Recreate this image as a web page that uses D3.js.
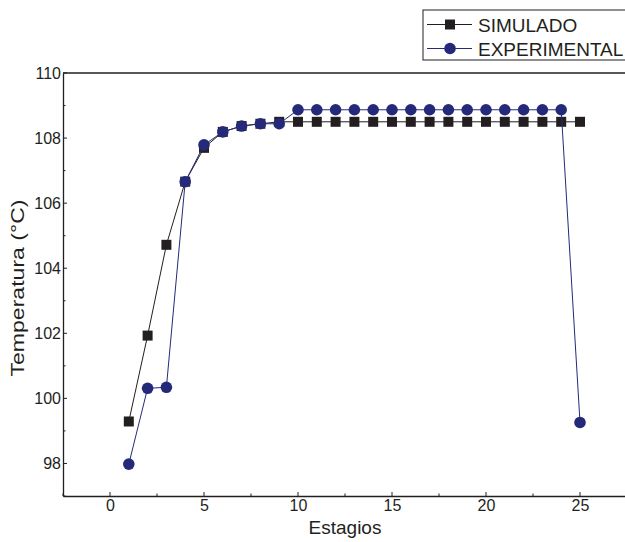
<!DOCTYPE html>
<html>
<head>
<meta charset="utf-8">
<script src="https://cdn.jsdelivr.net/npm/d3@7"></script>
<style>
  body { margin: 0; background: #fff; }
  text { font-family: "Liberation Sans", Arial, sans-serif; fill: #231f20; }
</style>
</head>
<body>
<div id="chart"></div>
<script>
// estagios 1..25
const estagios = d3.range(1, 26)
const simulado = [99.29, 101.93, 104.72, 106.66, 107.7, 108.19, 108.37, 108.44,
  108.5, 108.5, 108.5, 108.5, 108.5, 108.5, 108.5, 108.5, 108.5, 108.5, 108.5,
  108.5, 108.5, 108.5, 108.5, 108.5, 108.5]
const experimental = [97.98, 100.31, 100.34, 106.66, 107.79, 108.19, 108.37, 108.44,
  108.44, 108.87, 108.87, 108.87, 108.87, 108.87, 108.87, 108.87, 108.87, 108.87,
  108.87, 108.87, 108.87, 108.87, 108.87, 108.87, 99.26]
const xTicks = [0, 5, 10, 15, 20, 25]
const yTicks = [98, 100, 102, 104, 106, 108, 110]

const width = 625, height = 542
const plotLeft = 63, plotTop = 73, plotRight = 627, plotBottom = 496
const black = "#231f20", blue = "#24297a"

const svg = d3.select("#chart").append("svg")
  .attr("width", width).attr("height", height)

const x = d3.scaleLinear().domain([-2.5, 27.5]).range([plotLeft, plotRight])
const y = d3.scaleLinear().domain([97, 110]).range([plotBottom, plotTop])

// top frame line
svg.append("line").attr("x1", plotLeft).attr("x2", plotRight).attr("y1", plotTop).attr("y2", plotTop)
  .attr("stroke", black).attr("stroke-width", 1.3)

// ticks (inward, minor shorter)
const xMinor = d3.range(-2.5, 27.6, 2.5)
const yMinor = d3.range(97, 110.1, 1)
svg.append("g").selectAll("line").data(xMinor).enter().append("line")
  .attr("x1", d => x(d)).attr("x2", d => x(d))
  .attr("y1", plotBottom).attr("y2", d => plotBottom - (d % 5 === 0 ? 4 : 2.5))
  .attr("stroke", black)
svg.append("g").selectAll("line").data(yMinor).enter().append("line")
  .attr("y1", d => y(d)).attr("y2", d => y(d))
  .attr("x1", plotLeft).attr("x2", d => plotLeft + (d % 2 === 0 ? 4 : 2.5))
  .attr("stroke", black)

const xAxis = svg.append("g").attr("transform", `translate(0,${plotBottom})`)
  .call(d3.axisBottom(x).tickValues(xTicks).tickSize(0).tickPadding(4))
const yAxis = svg.append("g").attr("transform", `translate(${plotLeft},0)`)
  .call(d3.axisLeft(y).tickValues(yTicks).tickSize(0).tickPadding(2))
for (const g of [xAxis, yAxis]) {
  g.select(".domain").attr("stroke", black).attr("stroke-width", 1.3)
  g.selectAll("text").style("font-size", "16px").attr("fill", black)
    .style("font-family", "'Liberation Sans', Arial, sans-serif")
}

svg.append("text").attr("x", 345).attr("y", 534).attr("text-anchor", "middle")
  .style("font-size", "19px").text("Estagios")
svg.append("text").attr("transform", "translate(24,288) rotate(-90)")
  .attr("text-anchor", "middle").style("font-size", "17.5px")
  .attr("textLength", 177).attr("lengthAdjust", "spacingAndGlyphs")
  .text("Temperatura (°C)")

const line = d3.line().x((d, i) => x(estagios[i])).y(d => y(d))

// simulado
svg.append("path").datum(simulado).attr("d", line)
  .attr("fill", "none").attr("stroke", black).attr("stroke-width", 1)
svg.append("g").selectAll("rect").data(simulado).enter().append("rect")
  .attr("x", (d, i) => x(estagios[i]) - 5).attr("y", d => y(d) - 5)
  .attr("width", 10).attr("height", 10).attr("fill", black)

// experimental
svg.append("path").datum(experimental).attr("d", line)
  .attr("fill", "none").attr("stroke", blue).attr("stroke-width", 1)
svg.append("g").selectAll("circle").data(experimental).enter().append("circle")
  .attr("cx", (d, i) => x(estagios[i])).attr("cy", d => y(d))
  .attr("r", 5.8).attr("fill", blue)

// legend
const lg = svg.append("g")
lg.append("rect").attr("x", 423).attr("y", 10).attr("width", 260).attr("height", 50)
  .attr("fill", "#fff").attr("stroke", black).attr("stroke-width", 1)
const items = [{ name: "SIMULADO", color: black, shape: "square" },
  { name: "EXPERIMENTAL", color: blue, shape: "circle" }]
items.forEach((it, i) => {
  const cy = 24.5 + i * 24
  lg.append("line").attr("x1", 427).attr("x2", 472).attr("y1", cy).attr("y2", cy)
    .attr("stroke", it.color).attr("stroke-width", 1)
  if (it.shape === "square") {
    lg.append("rect").attr("x", 445).attr("y", cy - 5).attr("width", 10).attr("height", 10)
      .attr("fill", it.color)
  } else {
    lg.append("circle").attr("cx", 450).attr("cy", cy).attr("r", 5.8).attr("fill", it.color)
  }
  lg.append("text").attr("x", 478).attr("y", cy + 7).style("font-size", "19px").text(it.name)
})
</script>
</body>
</html>
